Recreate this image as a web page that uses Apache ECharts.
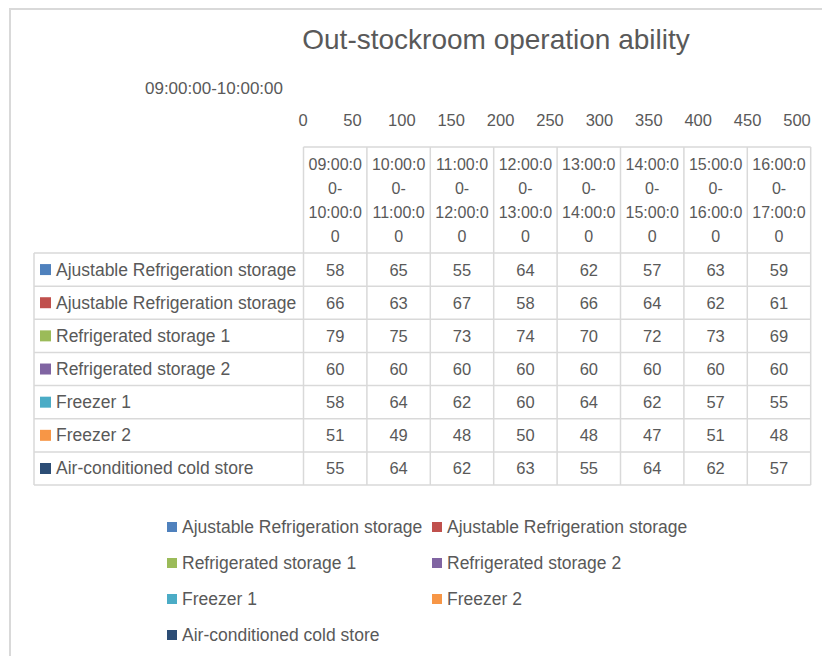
<!DOCTYPE html>
<html>
<head>
<meta charset="utf-8">
<script src="https://cdn.jsdelivr.net/npm/echarts@6/dist/echarts.min.js"></script>
<style>
  html, body { margin: 0; padding: 0; background: #fff; }
  #main { width: 822px; height: 656px; }
</style>
</head>
<body>
<div id="main"></div>
<script>
// time slots (categories)
var categories = [
  '09:00:00-10:00:00', '10:00:00-11:00:00', '11:00:00-12:00:00', '12:00:00-13:00:00',
  '13:00:00-14:00:00', '14:00:00-15:00:00', '15:00:00-16:00:00', '16:00:00-17:00:00'
]
var seriesNames = [
  'Ajustable Refrigeration storage',
  'Ajustable Refrigeration storage ',
  'Refrigerated storage 1',
  'Refrigerated storage 2',
  'Freezer 1',
  'Freezer 2',
  'Air-conditioned cold store'
]
var adjustable1 = [58, 65, 55, 64, 62, 57, 63, 59]
var adjustable2 = [66, 63, 67, 58, 66, 64, 62, 61]
var refrigerated1 = [79, 75, 73, 74, 70, 72, 73, 69]
var refrigerated2 = [60, 60, 60, 60, 60, 60, 60, 60]
var freezer1 = [58, 64, 62, 60, 64, 62, 57, 55]
var freezer2 = [51, 49, 48, 50, 48, 47, 51, 48]
var airCold = [55, 64, 62, 63, 55, 64, 62, 57]
var seriesData = [adjustable1, adjustable2, refrigerated1, refrigerated2, freezer1, freezer2, airCold]
var xTicks = [0, 50, 100, 150, 200, 250, 300, 350, 400, 450, 500]

var colors = ['#4f81bd', '#c0504d', '#9bbb59', '#8064a2', '#4bacc6', '#f79646', '#2c4d75']
var textColor = '#595959'
var lineColor = '#d9d9d9'
var font = '"Liberation Sans", Arial, sans-serif'

// data table layout (excel style table under the plot)
var tblLeft = 34, tblLabelRight = 303.5, colW = 63.4
var headTop = 147, headBottom = 253, rowH = 33.15

function wrapSlot(s) {
  // excel breaks the slot text inside the narrow cell
  return s.slice(0, 7) + '\n' + s.slice(7, 9) + '\n' + s.slice(9, 16) + '\n' + s.slice(16)
}

function buildTable() {
  var els = []
  var tblRight = tblLabelRight + colW * categories.length
  var tblBottom = headBottom + rowH * seriesNames.length
  var ln = function (x1, y1, x2, y2) {
    els.push({ type: 'line', silent: true, shape: { x1: x1, y1: y1, x2: x2, y2: y2 },
      style: { stroke: lineColor, lineWidth: 1.5 } })
  }
  // header cells
  ln(tblLabelRight, headTop, tblRight, headTop)
  for (var c = 0; c <= categories.length; c++) {
    var x = tblLabelRight + colW * c
    ln(x, headTop, x, tblBottom)
  }
  ln(tblLeft, headBottom, tblLeft, tblBottom)
  for (var r = 0; r <= seriesNames.length; r++) {
    var y = headBottom + rowH * r
    ln(tblLeft, y, tblRight, y)
  }
  categories.forEach(function (cat, i) {
    els.push({ type: 'text', silent: true,
      x: tblLabelRight + colW * (i + 0.5), y: (headTop + headBottom) / 2,
      style: { text: wrapSlot(cat), fill: textColor, font: '16px ' + font,
        align: 'center', verticalAlign: 'middle', lineHeight: 24 } })
  })
  seriesNames.forEach(function (name, r) {
    var cy = headBottom + rowH * (r + 0.5)
    els.push({ type: 'rect', silent: true, shape: { x: 40, y: cy - 5.5, width: 11, height: 11 },
      style: { fill: colors[r] } })
    els.push({ type: 'text', silent: true, x: 56, y: cy,
      style: { text: name.trim(), fill: textColor, font: '17.5px ' + font, verticalAlign: 'middle' } })
    seriesData[r].forEach(function (v, c) {
      els.push({ type: 'text', silent: true, x: tblLabelRight + colW * (c + 0.5), y: cy,
        style: { text: String(v), fill: textColor, font: '16.5px ' + font,
          align: 'center', verticalAlign: 'middle' } })
    })
  })
  // chart area frame
  els.push({ type: 'rect', silent: true, shape: { x: 10, y: 9, width: 830, height: 680 },
    style: { fill: 'none', stroke: lineColor, lineWidth: 2 } })
  return els
}

var chart = echarts.init(document.getElementById('main'), null, { renderer: 'svg' })
var option = {
  animation: false,
  color: colors,
  textStyle: { fontFamily: font },
  title: {
    text: 'Out-stockroom operation ability',
    left: 491, top: 20, textAlign: 'center',
    textStyle: { fontSize: 28, fontWeight: 'normal', color: textColor, fontFamily: font }
  },
  // the plot area has collapsed to nothing, as in the source, so the bars do not show
  grid: { left: 303, right: 25, top: 88, height: 0, containLabel: false },
  xAxis: {
    type: 'value', min: xTicks[0], max: xTicks[xTicks.length - 1], interval: 50,
    axisLine: { show: false }, axisTick: { show: false }, splitLine: { show: false },
    axisLabel: { color: textColor, fontSize: 16.5, margin: 23 }
  },
  yAxis: {
    type: 'category', data: categories,
    axisLine: { show: false }, axisTick: { show: false },
    axisLabel: { color: textColor, fontSize: 17, margin: 20,
      interval: function (i) { return i === 0 } }
  },
  legend: [
    { orient: 'vertical', left: 167, top: 517, padding: 0, itemWidth: 10, itemHeight: 10, itemGap: 16,
      icon: 'rect', textStyle: { color: textColor, fontSize: 17.5, lineHeight: 20 },
      data: [seriesNames[0], seriesNames[2], seriesNames[4], seriesNames[6]] },
    { orient: 'vertical', left: 432, top: 517, padding: 0, itemWidth: 10, itemHeight: 10, itemGap: 16,
      icon: 'rect', textStyle: { color: textColor, fontSize: 17.5, lineHeight: 20 },
      data: [seriesNames[1], seriesNames[3], seriesNames[5]] }
  ],
  series: seriesNames.map(function (name, i) {
    return { name: name, type: 'bar', stack: 'total', data: seriesData[i], barCategoryGap: '50%' }
  }),
  graphic: buildTable()
}
chart.setOption(option)
</script>
</body>
</html>
